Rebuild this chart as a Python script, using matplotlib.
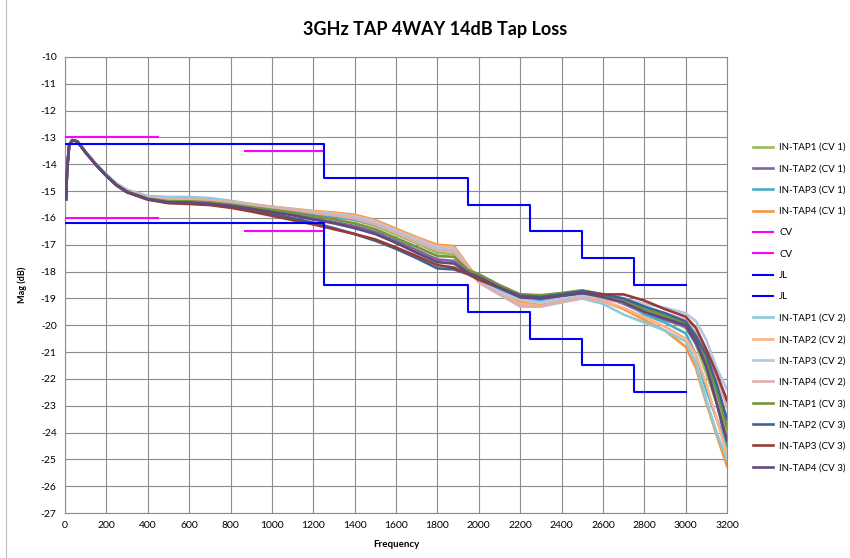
import numpy as np
import matplotlib
matplotlib.use("Agg")
import matplotlib.pyplot as plt
from matplotlib.lines import Line2D

plt.rcParams['font.family'] = ['Lato', 'DejaVu Sans']
plt.rcParams['axes.unicode_minus'] = False

# ---------------- data ----------------
FREQ = [5, 10, 20, 35, 60, 100, 150, 200, 250, 300, 400, 500, 600, 700, 800, 900, 1000,
        1100, 1200, 1300, 1400, 1500, 1600, 1700, 1800, 1880, 1950, 2000, 2100, 2200,
        2300, 2400, 2500, 2600, 2700, 2800, 2900, 3000, 3050, 3100, 3150, 3200]

TAP1_CV1 = [-15.3, -14.2, -13.3, -13.1, -13.15, -13.55, -14.0, -14.4, -14.75, -15.0, -15.26,
            -15.35, -15.36, -15.4, -15.46, -15.55, -15.63, -15.72, -15.85, -15.95, -16.08, -16.3,
            -16.62, -16.95, -17.3, -17.35, -17.95, -18.1, -18.55, -18.85, -18.9, -18.82, -18.72,
            -18.85, -19.05, -19.5, -19.75, -20.1, -20.7, -21.8, -22.9, -24.0]
TAP2_CV1 = [-15.3, -14.2, -13.3, -13.1, -13.15, -13.56, -14.02, -14.42, -14.77, -15.02, -15.28,
            -15.4, -15.4, -15.45, -15.52, -15.63, -15.74, -15.86, -16.02, -16.15, -16.3, -16.52,
            -16.85, -17.2, -17.55, -17.6, -18.0, -18.2, -18.6, -18.95, -19.0, -18.9, -18.8,
            -18.95, -19.2, -19.55, -19.8, -20.05, -20.7, -21.5, -22.9, -24.5]
TAP3_CV1 = [-15.3, -14.2, -13.3, -13.1, -13.15, -13.55, -14.0, -14.4, -14.74, -14.98, -15.22,
            -15.28, -15.3, -15.35, -15.44, -15.54, -15.64, -15.74, -15.86, -15.96, -16.05, -16.25,
            -16.55, -16.88, -17.2, -17.2, -17.9, -18.3, -18.7, -19.05, -19.1, -18.95, -18.85,
            -18.85, -19.1, -19.6, -19.9, -20.3, -21.1, -22.4, -23.5, -24.5]
TAP4_CV1 = [-15.3, -14.2, -13.3, -13.1, -13.15, -13.55, -14.0, -14.42, -14.78, -15.02, -15.25,
            -15.33, -15.33, -15.36, -15.42, -15.5, -15.58, -15.66, -15.74, -15.8, -15.88, -16.08,
            -16.4, -16.72, -17.0, -17.05, -17.8, -18.3, -18.8, -19.15, -19.25, -19.1, -18.95,
            -19.1, -19.4, -19.8, -20.2, -20.8, -21.6, -22.9, -24.1, -25.25]
TAP1_CV2 = [-15.3, -14.2, -13.3, -13.1, -13.15, -13.54, -13.98, -14.38, -14.72, -14.95, -15.18,
            -15.22, -15.22, -15.26, -15.36, -15.48, -15.58, -15.68, -15.8, -15.9, -16.0, -16.2,
            -16.52, -16.85, -17.15, -17.2, -17.9, -18.4, -18.85, -19.3, -19.3, -19.15, -19.0,
            -19.2, -19.6, -19.9, -20.2, -20.6, -21.4, -22.8, -24.0, -25.0]
TAP2_CV2 = [-15.3, -14.2, -13.3, -13.1, -13.15, -13.55, -14.0, -14.4, -14.75, -15.0, -15.24,
            -15.32, -15.32, -15.36, -15.43, -15.52, -15.6, -15.68, -15.76, -15.83, -15.92, -16.12,
            -16.45, -16.76, -17.05, -17.1, -17.85, -18.35, -18.8, -19.2, -19.28, -19.12, -18.98,
            -19.1, -19.35, -19.7, -20.05, -20.5, -21.1, -22.2, -23.5, -24.8]
TAP3_CV2 = [-15.3, -14.2, -13.3, -13.1, -13.15, -13.55, -13.99, -14.39, -14.73, -14.97, -15.21,
            -15.28, -15.3, -15.34, -15.42, -15.52, -15.6, -15.68, -15.78, -15.86, -15.95, -16.15,
            -16.48, -16.8, -17.1, -17.15, -17.9, -18.35, -18.75, -19.05, -19.15, -19.0, -18.9,
            -18.95, -19.0, -19.2, -19.35, -19.55, -19.85, -20.55, -21.6, -22.4]
TAP4_CV2 = [-15.3, -14.2, -13.3, -13.1, -13.15, -13.55, -14.0, -14.4, -14.74, -14.98, -15.23,
            -15.3, -15.3, -15.33, -15.4, -15.5, -15.6, -15.7, -15.8, -15.9, -16.02, -16.24,
            -16.56, -16.9, -17.2, -17.25, -17.9, -18.4, -18.85, -19.28, -19.3, -19.1, -19.0,
            -19.05, -19.15, -19.35, -19.55, -19.8, -20.3, -21.0, -21.9, -23.05]
TAP1_CV3 = [-15.3, -14.2, -13.3, -13.1, -13.15, -13.56, -14.02, -14.42, -14.77, -15.02, -15.28,
            -15.38, -15.38, -15.42, -15.5, -15.6, -15.7, -15.8, -15.93, -16.05, -16.2, -16.42,
            -16.75, -17.08, -17.42, -17.45, -17.95, -18.1, -18.5, -18.85, -18.88, -18.8, -18.7,
            -18.85, -19.05, -19.4, -19.65, -19.95, -20.5, -21.3, -22.5, -23.8]
TAP2_CV3 = [-15.3, -14.2, -13.3, -13.1, -13.15, -13.56, -14.02, -14.43, -14.78, -15.03, -15.3,
            -15.42, -15.45, -15.5, -15.6, -15.72, -15.85, -16.0, -16.18, -16.38, -16.6, -16.85,
            -17.15, -17.5, -17.88, -17.92, -18.1, -18.3, -18.6, -18.9, -18.95, -18.85, -18.72,
            -18.85, -19.0, -19.3, -19.55, -19.86, -20.4, -21.1, -22.2, -23.5]
TAP3_CV3 = [-15.3, -14.2, -13.3, -13.1, -13.16, -13.57, -14.03, -14.44, -14.8, -15.05, -15.32,
            -15.45, -15.48, -15.52, -15.62, -15.76, -15.92, -16.08, -16.24, -16.42, -16.6, -16.8,
            -17.1, -17.42, -17.76, -17.85, -18.1, -18.3, -18.6, -18.95, -19.0, -18.9, -18.8,
            -18.85, -18.85, -19.08, -19.4, -19.68, -20.1, -20.9, -21.8, -22.8]
TAP4_CV3 = [-15.3, -14.2, -13.3, -13.1, -13.15, -13.56, -14.02, -14.42, -14.78, -15.03, -15.3,
            -15.42, -15.42, -15.47, -15.55, -15.66, -15.78, -15.9, -16.06, -16.2, -16.38, -16.6,
            -16.93, -17.3, -17.65, -17.7, -18.05, -18.2, -18.6, -18.95, -19.0, -18.9, -18.8,
            -18.95, -19.15, -19.5, -19.75, -20.0, -20.6, -21.55, -22.9, -24.3]

# limit lines
CV_FREQ = [5, 450, 450, 870, 1250]
CV_UPPER = [-13.0, -13.0, np.nan, -13.5, -13.5]
CV_LOWER = [-16.0, -16.0, np.nan, -16.5, -16.5]
JL_FREQ = [5, 1250, 1950, 2250, 2500, 2750, 3000]
JL_UPPER = [-13.25, -14.5, -15.5, -16.5, -17.5, -18.5, -18.5]
JL_LOWER = [-16.2, -18.5, -19.5, -20.5, -21.5, -22.5, -22.5]

X_TICKS = list(range(0, 3201, 200))
Y_TICKS = list(range(-27, -9, 1))

# ---------------- figure ----------------
fig = plt.figure(figsize=(8.5, 5.58), dpi=100)
ax = fig.add_axes([65/850, 1-513/558, (727-65)/850, (513-57)/558])

lw = 1.9
series = [
    ("IN-TAP1 (CV 1)", TAP1_CV1, "#9BBB59"),
    ("IN-TAP2 (CV 1)", TAP2_CV1, "#8064A2"),
    ("IN-TAP3 (CV 1)", TAP3_CV1, "#4BACC6"),
    ("IN-TAP4 (CV 1)", TAP4_CV1, "#F79646"),
]
later = [
    ("IN-TAP1 (CV 2)", TAP1_CV2, "#8CCADC"),
    ("IN-TAP2 (CV 2)", TAP2_CV2, "#F9B384"),
    ("IN-TAP3 (CV 2)", TAP3_CV2, "#B3C6E2"),
    ("IN-TAP4 (CV 2)", TAP4_CV2, "#E0AEAD"),
    ("IN-TAP1 (CV 3)", TAP1_CV3, "#77933C"),
    ("IN-TAP2 (CV 3)", TAP2_CV3, "#3A6594"),
    ("IN-TAP3 (CV 3)", TAP3_CV3, "#973B38"),
    ("IN-TAP4 (CV 3)", TAP4_CV3, "#604A7B"),
]

handles = []
for name, vals, c in series:
    ln, = ax.plot(FREQ, vals, color=c, lw=lw, label=name, zorder=3)
    handles.append(ln)

h = ax.plot(CV_FREQ, CV_UPPER, color="#FF00FF", lw=1.5, label="CV", zorder=4)[0]
handles.append(h)
h = ax.plot(CV_FREQ, CV_LOWER, color="#FF00FF", lw=1.5, label="CV", zorder=4)[0]
handles.append(h)
h = ax.plot(JL_FREQ, JL_UPPER, color="#0000FF", lw=1.5, drawstyle="steps-post", label="JL", zorder=4)[0]
handles.append(h)
h = ax.plot(JL_FREQ, JL_LOWER, color="#0000FF", lw=1.5, drawstyle="steps-post", label="JL", zorder=4)[0]
handles.append(h)

for name, vals, c in later:
    ln, = ax.plot(FREQ, vals, color=c, lw=lw, label=name, zorder=3)
    handles.append(ln)

ax.set_xlim(0, 3200)
ax.set_ylim(-27, -10)
ax.set_xticks(X_TICKS)
ax.set_yticks(Y_TICKS)
ax.tick_params(length=0, labelsize=7.5, pad=6)
ax.grid(True, color="#8C8C8C", lw=0.8)
ax.set_axisbelow(True)
for s in ax.spines.values():
    s.set_color("#8C8C8C")
    s.set_linewidth(0.8)

ax.set_xlabel("Frequency", fontsize=7, fontweight="bold", labelpad=7)
ax.set_ylabel("Mag (dB)", fontsize=6.5, fontweight="bold", labelpad=10)

fig.text(0.512, 1-30/558, "3GHz TAP 4WAY 14dB Tap Loss", ha="center", va="center",
         fontsize=13, fontweight="bold")

leg = fig.legend(handles=handles, loc="upper left", bbox_to_anchor=(753/850, 1-143/558),
                 frameon=False, fontsize=7, handlelength=2.1, handletextpad=0.6,
                 labelspacing=1.27, borderaxespad=0, borderpad=0)

fig.add_artist(Line2D([6/850, 6/850], [0, 1], color="#BFBFBF", lw=0.8,
                      transform=fig.transFigure))

fig.savefig("out.png", dpi=100)
